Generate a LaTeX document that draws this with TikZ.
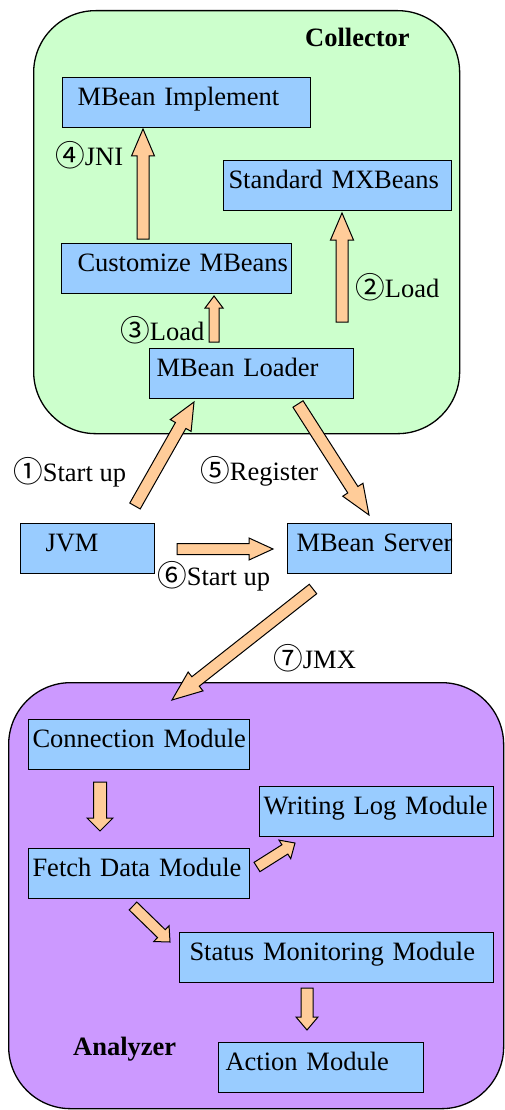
\documentclass[tikz,border=0pt]{standalone}
\usepackage{fontspec}
\setmainfont{Liberation Serif}
\newfontfamily\cjk[Scale=1.12]{Noto Sans CJK SC}
\usetikzlibrary{calc}

\definecolor{collgreen}{HTML}{CCFFCC}
\definecolor{anapurple}{HTML}{CC99FF}
\definecolor{boxblue}{HTML}{99CCFF}
\definecolor{arroworange}{HTML}{FFCC99}

\tikzset{
  box/.style 2 args={draw, line width=1pt, fill=boxblue, anchor=north west, inner xsep=0pt, inner ysep=0pt,
    text width=#1, text height=28pt, text depth=22pt, align=left, execute at begin node={\hspace*{#2}}},
  container/.style={draw, line width=1.3pt, rounded corners=62pt, anchor=north west, inner sep=0pt},
  fat/.style={draw, line width=1pt, fill=arroworange, line join=miter},
  lbl/.style={anchor=base west, inner sep=0pt},
}

\newcommand{\fatarrow}[5]{%
  \coordinate (hb) at ($(#2)!#5!(#1)$);
  \draw[fat] ($(#1)!#3!90:(#2)$) -- ($(hb)!#3!90:(#2)$) -- ($(hb)!#4!90:(#2)$) -- (#2)
    -- ($(hb)!#4!-90:(#2)$) -- ($(hb)!#3!-90:(#2)$) -- ($(#1)!#3!-90:(#2)$) -- cycle;}
\newcommand{\circnum}[1]{{\cjk\raisebox{-1pt}{#1}}}

\begin{document}
\begin{tikzpicture}[x=1pt, y=-1pt, font=\fontsize{26.5pt}{30pt}\selectfont]
\useasboundingbox (0,0) rectangle (504,1110);

\node[container, fill=collgreen, minimum width=426pt, minimum height=423pt] (collector) at (33,10) {};
\node[container, fill=anapurple, minimum width=495pt, minimum height=426pt] (analyzer) at (8,682) {};

\node[lbl, font=\fontsize{26.5pt}{30pt}\selectfont\bfseries] (colltitle) at (305,47) {Collector};
\node[lbl, font=\fontsize{26.5pt}{30pt}\selectfont\bfseries] (anatitle) at (73,1055) {Analyzer};

\node[box={248pt}{15pt}] (impl) at (62,77) {MBean Implement};
\node[box={228pt}{5pt}] (std) at (223,160) {Standard MXBeans};
\node[box={230pt}{16pt}] (cust) at (61,243) {Customize MBeans};
\node[box={204pt}{7pt}] (loader) at (149,348) {MBean Loader};
\node[box={134pt}{25pt}] (jvm) at (20,523) {JVM};
\node[box={164pt}{9pt}] (server) at (287,523) {MBean~Server};
\node[box={221pt}{4pt}] (conn) at (28,719) {Connection Module};
\node[box={234pt}{4pt}] (wlog) at (259,786) {Writing Log Module};
\node[box={221pt}{4pt}] (fetch) at (28,848) {Fetch Data Module};
\node[box={314pt}{10pt}] (status) at (179,932) {Status Monitoring Module};
\node[box={205pt}{7pt}] (action) at (218,1042) {Action Module};

\coordinate (s1) at (135,506); \coordinate (e1) at (194,402);
\coordinate (s2) at (342,322); \coordinate (e2) at (342,213);
\coordinate (s3) at (214,342); \coordinate (e3) at (214,296);
\coordinate (s4) at (143,239); \coordinate (e4) at (143,129);
\coordinate (s5) at (298,404); \coordinate (e5) at (369,515);
\coordinate (s6) at (177,549); \coordinate (e6) at (273,549);
\coordinate (s7) at (313,589); \coordinate (e7) at (172,700);
\coordinate (s8) at (100,782); \coordinate (e8) at (100,831);
\coordinate (s9) at (257,867); \coordinate (e9) at (295,843);
\coordinate (s10) at (133,906); \coordinate (e10) at (170,942);
\coordinate (s11) at (307,988); \coordinate (e11) at (307,1030);

\fatarrow{s1}{e1}{6pt}{12pt}{27pt}
\fatarrow{s2}{e2}{6pt}{11.5pt}{27pt}
\fatarrow{s3}{e3}{5pt}{9pt}{12pt}
\fatarrow{s4}{e4}{6pt}{11.5pt}{27pt}
\fatarrow{s5}{e5}{6pt}{12pt}{30pt}
\fatarrow{s6}{e6}{5.5pt}{11pt}{24pt}
\fatarrow{s7}{e7}{6pt}{12pt}{30pt}
\fatarrow{s8}{e8}{6.5pt}{13pt}{13pt}
\fatarrow{s9}{e9}{5.5pt}{11pt}{12pt}
\fatarrow{s10}{e10}{5.5pt}{11pt}{12pt}
\fatarrow{s11}{e11}{6pt}{11pt}{13pt}

\node[lbl] (l1) at (13,481) {\circnum{①}Start up};
\node[lbl] (l2) at (355,297) {\circnum{②}Load};
\node[lbl] (l3) at (120,340) {\circnum{③}Load};
\node[lbl] (l4) at (55,166) {\circnum{④}JNI};
\node[lbl] (l5) at (200,480) {\circnum{⑤}Register};
\node[lbl] (l6) at (157,585) {\circnum{⑥}Start up};
\node[lbl] (l7) at (273,668) {\circnum{⑦}JMX};
\end{tikzpicture}
\end{document}
